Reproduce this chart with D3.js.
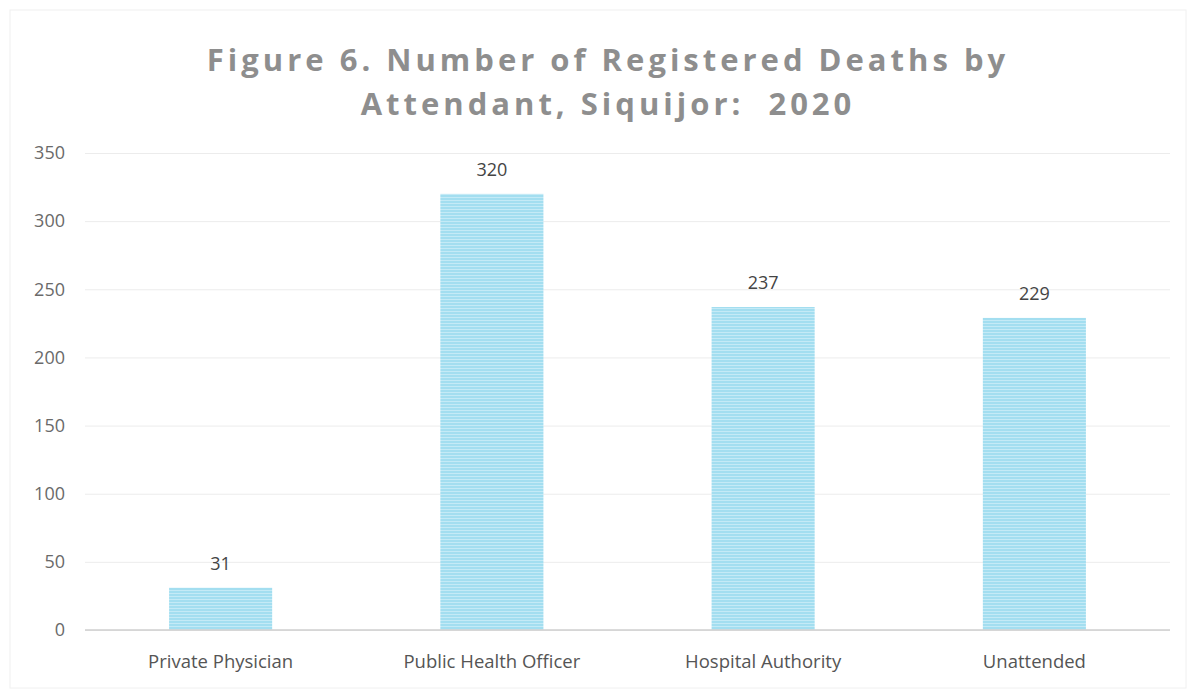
<html>
<script src="https://d3js.org/d3.v7.min.js"></script>
<style>
body { margin: 0; background: #fff; }
.tick text { font-family: "Open Sans", sans-serif; }
</style>
<body>
<div class="chart"></div>
<script>
// chart values
let categories = ["Private Physician", "Public Health Officer", "Hospital Authority", "Unattended"];
let deaths = [31, 320, 237, 229];
let yTicks = [0, 50, 100, 150, 200, 250, 300, 350];
let titleLines = ["Figure 6. Number of Registered Deaths by", "Attendant, Siquijor:  2020"];

let width = 1196, height = 694;
let margin = {top: 153, right: 26, bottom: 64, left: 85};

let svg = d3.select(".chart").append("svg")
    .attr("width", width)
    .attr("height", height);

// faint page frame from the scan
svg.append("rect")
    .attr("x", 10).attr("y", 10)
    .attr("width", width - 20).attr("height", height - 16)
    .attr("fill", "none").attr("stroke", "#f0f0f0");

// striped fill like the printed bars
let defs = svg.append("defs");
let pat = defs.append("pattern")
    .attr("id", "stripes")
    .attr("width", 6).attr("height", 3)
    .attr("patternUnits", "userSpaceOnUse");
pat.append("rect").attr("width", 6).attr("height", 3).attr("fill", "#a3def0");
pat.append("rect").attr("y", 2).attr("width", 6).attr("height", 1).attr("fill", "#c4eaf6");

let x = d3.scaleBand()
    .domain(categories)
    .range([margin.left, width - margin.right])
    .paddingInner(0.62)
    .paddingOuter(0.31);

let y = d3.scaleLinear()
    .domain([0, 350])
    .range([height - margin.bottom, margin.top]);

// gridlines + y labels
let yAxis = svg.append("g")
    .attr("transform", `translate(${margin.left},0)`)
    .call(d3.axisLeft(y).tickValues(yTicks)
        .tickSize(-(width - margin.left - margin.right))
        .tickPadding(20));
yAxis.select(".domain").remove();
yAxis.selectAll(".tick line").attr("stroke", "#ececec");
yAxis.selectAll(".tick text")
    .attr("fill", "#6a6a6a")
    .style("font-size", "18px");

// bars
svg.append("g").selectAll("rect")
    .data(deaths)
    .enter().append("rect")
    .attr("x", (d, i) => x(categories[i]))
    .attr("y", d => y(d))
    .attr("width", x.bandwidth())
    .attr("height", d => y(0) - y(d))
    .attr("fill", "url(#stripes)");

// baseline
svg.append("line")
    .attr("x1", margin.left).attr("x2", width - margin.right)
    .attr("y1", y(0)).attr("y2", y(0))
    .attr("stroke", "#cfcfcf").attr("stroke-width", 1.5);

// value labels
svg.append("g").selectAll("text")
    .data(deaths)
    .enter().append("text")
    .attr("x", (d, i) => x(categories[i]) + x.bandwidth() / 2)
    .attr("y", d => y(d) - 18)
    .attr("text-anchor", "middle")
    .attr("fill", "#444")
    .style("font-family", "Open Sans, sans-serif")
    .style("font-size", "18px")
    .text(d => d);

// category labels
let xAxis = svg.append("g")
    .attr("transform", `translate(0,${y(0)})`)
    .call(d3.axisBottom(x).tickSize(0).tickPadding(25));
xAxis.select(".domain").remove();
xAxis.selectAll(".tick text")
    .attr("fill", "#555")
    .style("font-size", "18.5px");

// title
svg.append("g").selectAll("text")
    .data(titleLines)
    .enter().append("text")
    .attr("x", width / 2 + 10)
    .attr("y", (d, i) => 71 + i * 44)
    .attr("text-anchor", "middle")
    .attr("fill", "#8e8e8e")
    .style("white-space", "pre")
    .style("font-family", "Open Sans, sans-serif")
    .style("font-weight", "bold")
    .style("font-size", "31px")
    .style("letter-spacing", "4px")
    .text(d => d);
</script>
</body>
</html>
